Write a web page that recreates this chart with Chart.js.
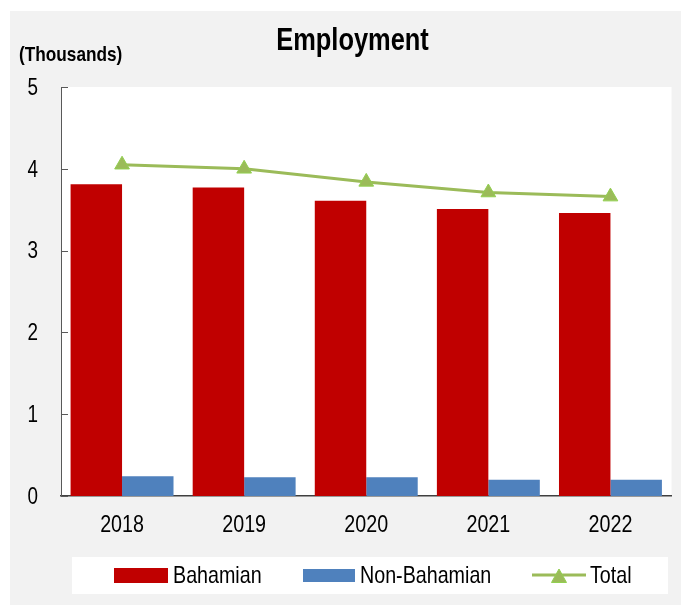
<!DOCTYPE html>
<html lang="en">
<head>
<meta charset="UTF-8">
<title>Employment</title>
<script src="https://cdn.jsdelivr.net/npm/chart.js"></script>
<style>
    body { margin: 0; background: #fff; width: 681px; height: 605px; overflow: hidden; }
    #panel { position: absolute; left: 10px; top: 11px; width: 671px; height: 594px; background: #f2f2f2; }
</style>
</head>
<body>
<div id="panel"><canvas id="chart" width="671" height="594"></canvas></div>
<script>
    // values (thousands)
    const years = ['2018', '2019', '2020', '2021', '2022'];
    const bahamian = [3.81, 3.77, 3.61, 3.51, 3.46];
    const nonBahamian = [0.24, 0.23, 0.23, 0.20, 0.20];
    const total = [4.05, 4.00, 3.84, 3.71, 3.66];
    const yTicks = [0, 1, 2, 3, 4, 5];

    const FONT = "'Liberation Sans', Arial, sans-serif";
    const NARROW = 0.82;  // no Arial Narrow installed, squeeze Liberation Sans instead
    const RED = '#c00000', BLUE = '#4f81bd', GREEN = '#9bbb59', GREEN_EDGE = '#92d050';

    function narrowText(ctx, text, x, y, font, align, baseline) {
        ctx.save();
        ctx.font = font;
        ctx.textAlign = align;
        ctx.textBaseline = baseline;
        ctx.fillStyle = '#000';
        ctx.translate(x, y);
        ctx.scale(NARROW, 1);
        ctx.fillText(text, 0, 0);
        ctx.restore();
    }

    // white plot area, inside ticks, tick labels, title and legend
    const decor = {
        id: 'decor',
        beforeDraw(chart) {
            const a = chart.chartArea, ctx = chart.ctx;
            ctx.save();
            ctx.fillStyle = '#fff';
            ctx.fillRect(a.left, a.top, a.right - a.left, a.bottom - a.top);
            ctx.restore();
        },
        afterDraw(chart) {
            const ctx = chart.ctx, x = chart.scales.x, y = chart.scales.y, a = chart.chartArea;
            ctx.save();
            // tick marks pointing into the plot
            ctx.strokeStyle = '#595959';
            ctx.lineWidth = 1;
            yTicks.forEach(v => {
                const py = Math.round(y.getPixelForValue(v)) + 0.5;
                ctx.beginPath();
                ctx.moveTo(a.left, py);
                ctx.lineTo(a.left + 7, py);
                ctx.stroke();
            });
            ctx.restore();

            yTicks.forEach(v => {
                narrowText(ctx, String(v), 28, y.getPixelForValue(v) + 1.5, '23px ' + FONT, 'right', 'middle');
            });
            years.forEach((label, i) => {
                narrowText(ctx, label, x.getPixelForTick(i), 514.5, '24px ' + FONT, 'center', 'middle');
            });

            narrowText(ctx, 'Employment', 342.5, 39, 'bold 31px ' + FONT, 'center', 'alphabetic');
            narrowText(ctx, '(Thousands)', 9, 50, 'bold 21px ' + FONT, 'left', 'alphabetic');

            // legend
            const ds = chart.data.datasets;
            ctx.save();
            ctx.fillStyle = '#fff';
            ctx.fillRect(62, 546, 596, 37);
            ctx.fillStyle = ds[0].backgroundColor;
            ctx.fillRect(104, 557, 54, 15);
            ctx.fillStyle = ds[1].backgroundColor;
            ctx.fillRect(293, 558, 52, 13);
            ctx.strokeStyle = ds[2].borderColor;
            ctx.lineWidth = 3;
            ctx.beginPath();
            ctx.moveTo(522, 564);
            ctx.lineTo(576, 564);
            ctx.stroke();
            ctx.fillStyle = ds[2].pointBackgroundColor;
            ctx.strokeStyle = ds[2].pointBorderColor;
            ctx.lineWidth = 1;
            ctx.beginPath();
            ctx.moveTo(549, 558);
            ctx.lineTo(556.5, 571.5);
            ctx.lineTo(541.5, 571.5);
            ctx.closePath();
            ctx.fill();
            ctx.stroke();
            ctx.restore();
            narrowText(ctx, ds[0].label, 163, 565, '24px ' + FONT, 'left', 'middle');
            narrowText(ctx, ds[1].label, 350, 565, '24px ' + FONT, 'left', 'middle');
            narrowText(ctx, ds[2].label, 580, 565, '24px ' + FONT, 'left', 'middle');
        }
    };

    new Chart(document.getElementById('chart'), {
        type: 'bar',
        data: {
            labels: years,
            datasets: [{
                label: 'Bahamian',
                data: bahamian,
                backgroundColor: RED,
                categoryPercentage: 0.843,
                barPercentage: 1,
                order: 2
            }, {
                label: 'Non-Bahamian',
                data: nonBahamian,
                backgroundColor: BLUE,
                categoryPercentage: 0.843,
                barPercentage: 1,
                order: 2
            }, {
                type: 'line',
                label: 'Total',
                data: total,
                borderColor: GREEN,
                borderWidth: 3,
                pointStyle: 'triangle',
                pointRadius: 8.5,
                pointBackgroundColor: GREEN,
                pointBorderColor: GREEN_EDGE,
                pointBorderWidth: 1,
                tension: 0,
                order: 1
            }]
        },
        options: {
            responsive: false,
            animation: false,
            layout: { padding: { top: 76, right: 3, left: 0, bottom: 69 } },
            plugins: {
                legend: { display: false },
                title: { display: false },
                tooltip: { enabled: false }
            },
            scales: {
                x: {
                    grid: { display: false, drawTicks: false },
                    border: { display: true, color: '#404040', width: 1.5 },
                    ticks: { display: false },
                    afterFit: s => { s.height = 40; }
                },
                y: {
                    min: 0,
                    max: 5,
                    grid: { display: false, drawTicks: false },
                    border: { display: true, color: '#595959', width: 1 },
                    ticks: { display: false, stepSize: 1 },
                    afterFit: s => { s.width = 51; }
                }
            }
        },
        plugins: [decor]
    });
</script>
</body>
</html>
